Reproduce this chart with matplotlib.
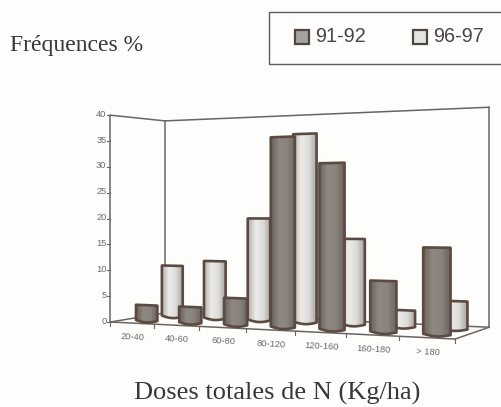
import numpy as np
import matplotlib
matplotlib.use("Agg")
import matplotlib.pyplot as plt
from matplotlib.patches import Polygon
from matplotlib.colors import LinearSegmentedColormap

categories = ["20-40", "40-60", "60-80", "80-120", "120-160", "160-180", "> 180"]
series_91_92 = [3, 3, 5, 35, 30, 9, 15]
series_96_97 = [10.2, 11.3, 19.8, 36, 16, 3, 5]
y_ticks = [0, 5, 10, 15, 20, 25, 30, 35, 40]
legend_labels = ["91-92", "96-97"]
y_title = "Fréquences %"
x_title = "Doses totales de N (Kg/ha)"

W, H = 502, 407
BG = "#fdfdfb"
LINE = "#6a6560"
TXT = "#6f6b67"
EDGE = "#5a4a42"
SANS = "Liberation Sans"
SERIF = "Liberation Serif"


def project(u, v, d):
    """Perspective from (category, value, depth) to picture pixels."""
    w = 1 - 0.01957 * u + 0.077 * d
    x = 110.5 + 40.31 * u + 67.2 * d
    y = 322 - 4.2 * u + 15 * d - 5.17 * v
    return x / w, y / w


fig = plt.figure(figsize=(W / 100, H / 100), dpi=100, facecolor=BG)
ax = fig.add_axes([0, 0, 1, 1])
ax.set_facecolor(BG)
ax.axis("off")

n = len(categories)
vmax = max(y_ticks)


def seg(p, q, lw=1.1, color=LINE, z=1):
    ax.plot([p[0], q[0]], [p[1], q[1]], color=color, lw=lw, solid_capstyle="round", zorder=z)


# box frame
seg(project(0, 0, 0), project(0, vmax, 0))
seg(project(0, 0, 0), project(n, 0, 0))
seg(project(n, 0, 0), project(n, 0, 1))
seg(project(0, 0, 0), project(0, 0, 1))
seg(project(0, 0, 1), project(n, 0, 1))
seg(project(0, 0, 1), project(0, vmax, 1))
seg(project(n, 0, 1), project(n, vmax, 1))
seg(project(0, vmax, 0), project(0, vmax, 1))
seg(project(0, vmax, 1), project(n, vmax, 1))

# ticks and labels
for t in y_ticks:
    x, y = project(0, t, 0)
    ax.plot([x - 3, x], [y, y], color=LINE, lw=0.8)
    ax.text(x - 4, y - 1, str(t), ha="right", va="center", fontsize=6.7, color=TXT, family=SANS)
for i in range(n + 1):
    x, y = project(i, 0, 0)
    ax.plot([x, x], [y, y + 3.5], color=LINE, lw=0.8)
for i, c in enumerate(categories):
    x, y = project(i + 0.5, 0, 0)
    ax.text(x + 1, y + 14, c, ha="center", va="center", fontsize=6.7, color=TXT,
            family=SANS, rotation=-3, rotation_mode="anchor")

dark_cm = LinearSegmentedColormap.from_list("d", ["#6d625c", "#8f8782", "#8a827d", "#6d625c"])
light_cm = LinearSegmentedColormap.from_list("l", ["#b4b1ac", "#ecebe7", "#dddcd8", "#a5a29e"])


def bar(u, val, d, cmap, z):
    half = 0.25
    xl, yl0 = project(u - half, 0, d)
    xr, yr0 = project(u + half, 0, d)
    xlt, ylt = project(u - half, val, d)
    xrt, yrt = project(u + half, val, d)
    t = np.linspace(0, 1, 15)
    bx = xl + (xr - xl) * t
    by = yl0 + (yr0 - yl0) * t + 2.0 * np.sin(np.pi * t)
    pts = [(xlt, ylt), (xrt, yrt)] + list(zip(bx[::-1], by[::-1]))
    grad = np.linspace(0, 1, 64).reshape(1, -1)
    im = ax.imshow(grad, cmap=cmap, extent=(xl, xr, max(by) + 2, min(ylt, yrt) - 1),
                   aspect="auto", zorder=z, interpolation="bilinear")
    im.set_clip_path(Polygon(pts, closed=True, transform=ax.transData))
    ax.add_patch(Polygon(pts, closed=True, fc="none", ec=EDGE, lw=1.9,
                         joinstyle="round", zorder=z + 0.005))


for i, val in enumerate(series_96_97):
    bar(i + 0.5, val, 0.74, light_cm, 3 + i * 0.01)
for i, val in enumerate(series_91_92):
    bar(i + 0.5, val, 0.26, dark_cm, 4 + i * 0.01)

# titles
ax.text(10, 45, y_title, fontsize=17, family=SERIF, color="#3a3734", ha="left", va="center")
ax.text(277, 393, x_title, fontsize=19, family=SERIF, color="#3a3734", ha="center", va="center")

# legend: the box runs off the right edge of the scan
ax.plot([W + 5, 269.5, 269.5, W + 5], [12, 12, 64, 64], color="#605c58", lw=1.0, zorder=2)
for lab, mx, tx, face in zip(legend_labels, (295, 413), (315, 433), ("#a8a29d", "#e4e3df")):
    ax.fill([mx, mx + 14, mx + 14, mx], [30, 30, 44, 44], fc=face, ec="#4e4640", lw=1.6, zorder=2)
    ax.text(tx, 36.5, lab, fontsize=14.3, family=SANS, color="#4a4643", ha="left", va="center")

ax.set_xlim(0, W)
ax.set_ylim(H, 0)
fig.savefig("out.png", dpi=100, facecolor=BG)
